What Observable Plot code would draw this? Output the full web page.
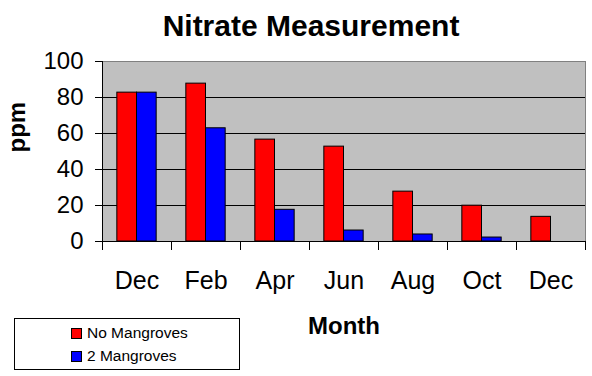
<!DOCTYPE html>
<html>
<head>
<meta charset="utf-8">
<script src="https://cdn.jsdelivr.net/npm/d3@7"></script>
<script src="https://cdn.jsdelivr.net/npm/@observablehq/plot@0.6"></script>
<style>
  body { margin: 0; background: #fff; }
  #wrap { position: relative; width: 592px; height: 376px; font-family: "Liberation Sans", Arial, sans-serif; }
  #legend { position: absolute; left: 14px; top: 318px; width: 224px; height: 50px; border: 1px solid #000; box-sizing: content-box; }
  .item { position: absolute; left: 56px; font-size: 15.5px; line-height: 15px; white-space: nowrap; }
  .sw { display: inline-block; width: 9px; height: 9px; border: 1px solid #000; margin-right: 5px; vertical-align: -1px; }
</style>
</head>
<body>
<div id="wrap"></div>
<script>
const months = ["Dec", "Feb", "Apr", "Jun", "Aug", "Oct", "Dec"];
const noMangroves = [82.7, 87.7, 56.6, 52.7, 27.7, 19.9, 13.7];
const twoMangroves = [82.7, 62.9, 17.6, 6.1, 3.9, 2.2, 0];
const seriesNames = ["No Mangroves", "2 Mangroves"];
const seriesColors = ["#ff0000", "#0000ff"];
const yTicks = [0, 20, 40, 60, 80, 100];

const rows = [];
months.forEach((m, i) => {
  rows.push({i, s: 0, v: noMangroves[i]});
  rows.push({i, s: 1, v: twoMangroves[i]});
});
const bars = rows.filter(d => d.v > 0);

const font = "'Liberation Sans', Arial, sans-serif";

const chart = Plot.plot({
  width: 592,
  height: 376,
  marginLeft: 102,
  marginRight: 7,
  marginTop: 61,
  marginBottom: 135,
  style: {fontFamily: font, fontSize: "24px", background: "white", overflow: "visible", color: "#000"},
  x: {type: "linear", domain: [0, months.length], axis: null},
  y: {domain: [0, 100], axis: null},
  marks: [
    Plot.frame({fill: "#c0c0c0", stroke: "#808080"}),
    Plot.ruleY(yTicks.filter(t => t > 0 && t < 100), {stroke: "#000", strokeWidth: 1}),
    Plot.rectY(bars, {
      x1: d => d.i + 0.215 + d.s * 0.285,
      x2: d => d.i + 0.5 + d.s * 0.285,
      y1: 0,
      y2: "v",
      fill: d => seriesColors[d.s],
      stroke: "#000",
      strokeWidth: 1
    }),
    Plot.ruleY([0], {stroke: "#000", strokeWidth: 1}),
    Plot.ruleX([0], {stroke: "#000", strokeWidth: 1}),
    Plot.axisY({ticks: yTicks, tickSize: 7, tickPadding: 12, fontSize: 24, stroke: "#000", label: null}),
    Plot.axisX({ticks: d3.range(months.length + 1), tickSize: 9, tickFormat: () => "", stroke: "#000", label: null}),
    Plot.axisX({ticks: months.map((m, i) => i + 0.5), tickFormat: v => months[Math.floor(v)], tickSize: 0, tickPadding: 30, fontSize: 25, label: null}),
    Plot.text(["Nitrate Measurement"], {frameAnchor: "top", lineAnchor: "bottom", dx: -33, dy: -26, fontSize: 30, fontWeight: "bold", fill: "#000"}),
    Plot.text(["Month"], {frameAnchor: "bottom", lineAnchor: "bottom", dx: 0, dy: 92, fontSize: 24, fontWeight: "bold", fill: "#000"}),
    Plot.text(["ppm"], {frameAnchor: "left", lineAnchor: "bottom", rotate: -90, dx: -78, dy: 1, fontSize: 24, fontWeight: "bold", fill: "#000"})
  ]
});

const wrap = document.getElementById("wrap");
wrap.appendChild(chart);

const legend = document.createElement("div");
legend.id = "legend";
seriesNames.forEach((name, k) => {
  const item = document.createElement("div");
  item.className = "item";
  item.style.top = (6 + k * 22.5) + "px";
  const sw = document.createElement("span");
  sw.className = "sw";
  sw.style.background = seriesColors[k];
  item.appendChild(sw);
  item.appendChild(document.createTextNode(name));
  legend.appendChild(item);
});
wrap.appendChild(legend);
</script>
</body>
</html>
